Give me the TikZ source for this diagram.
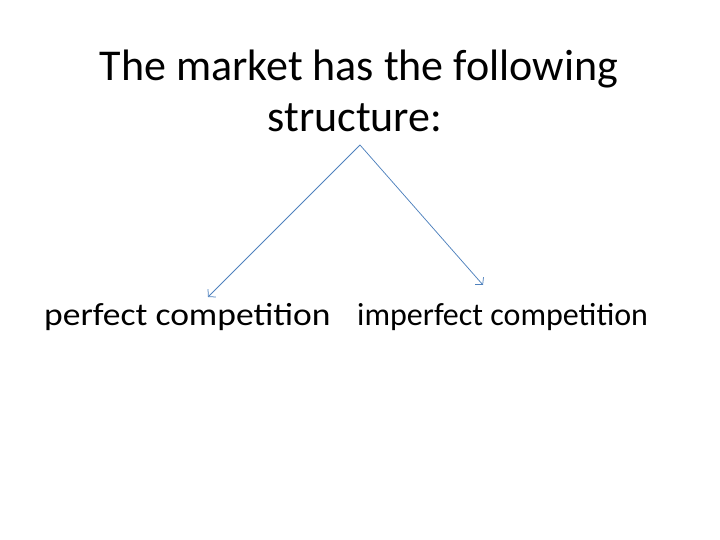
\documentclass[tikz,border=0pt]{standalone}
\usepackage{fontspec}
\setmainfont{Carlito}
\newfontfamily\widefont[FakeStretch=1.11]{Carlito}
\usetikzlibrary{arrows.meta}
\definecolor{accent}{RGB}{79,129,189}
\begin{document}
\begin{tikzpicture}[x=1pt,y=1pt,
  conn/.style={draw=accent,line width=0.75pt,-{Straight Barb[length=5pt,width=11pt]}},
  lbl/.style={inner sep=0pt,anchor=base}]
\useasboundingbox (0,0) rectangle (720,540);
\node[lbl,font=\fontsize{44}{50}\selectfont] (t1) at (359,459) {The market has the following};
\node[lbl,font=\fontsize{44}{50}\selectfont] (t2) at (355,408) {structure:};
\node[lbl,font=\widefont\fontsize{32}{36}\selectfont,anchor=base west] (pc) at (44,214) {perfect competition};
\node[lbl,font=\fontsize{32}{36}\selectfont,anchor=base west] (ic) at (357,214) {imperfect competition};
\coordinate (apex) at (360,395);
\coordinate (lt) at (208,243);
\coordinate (rt) at (483,255);
\draw[conn] (apex) -- (lt);
\draw[conn] (apex) -- (rt);
\end{tikzpicture}
\end{document}
